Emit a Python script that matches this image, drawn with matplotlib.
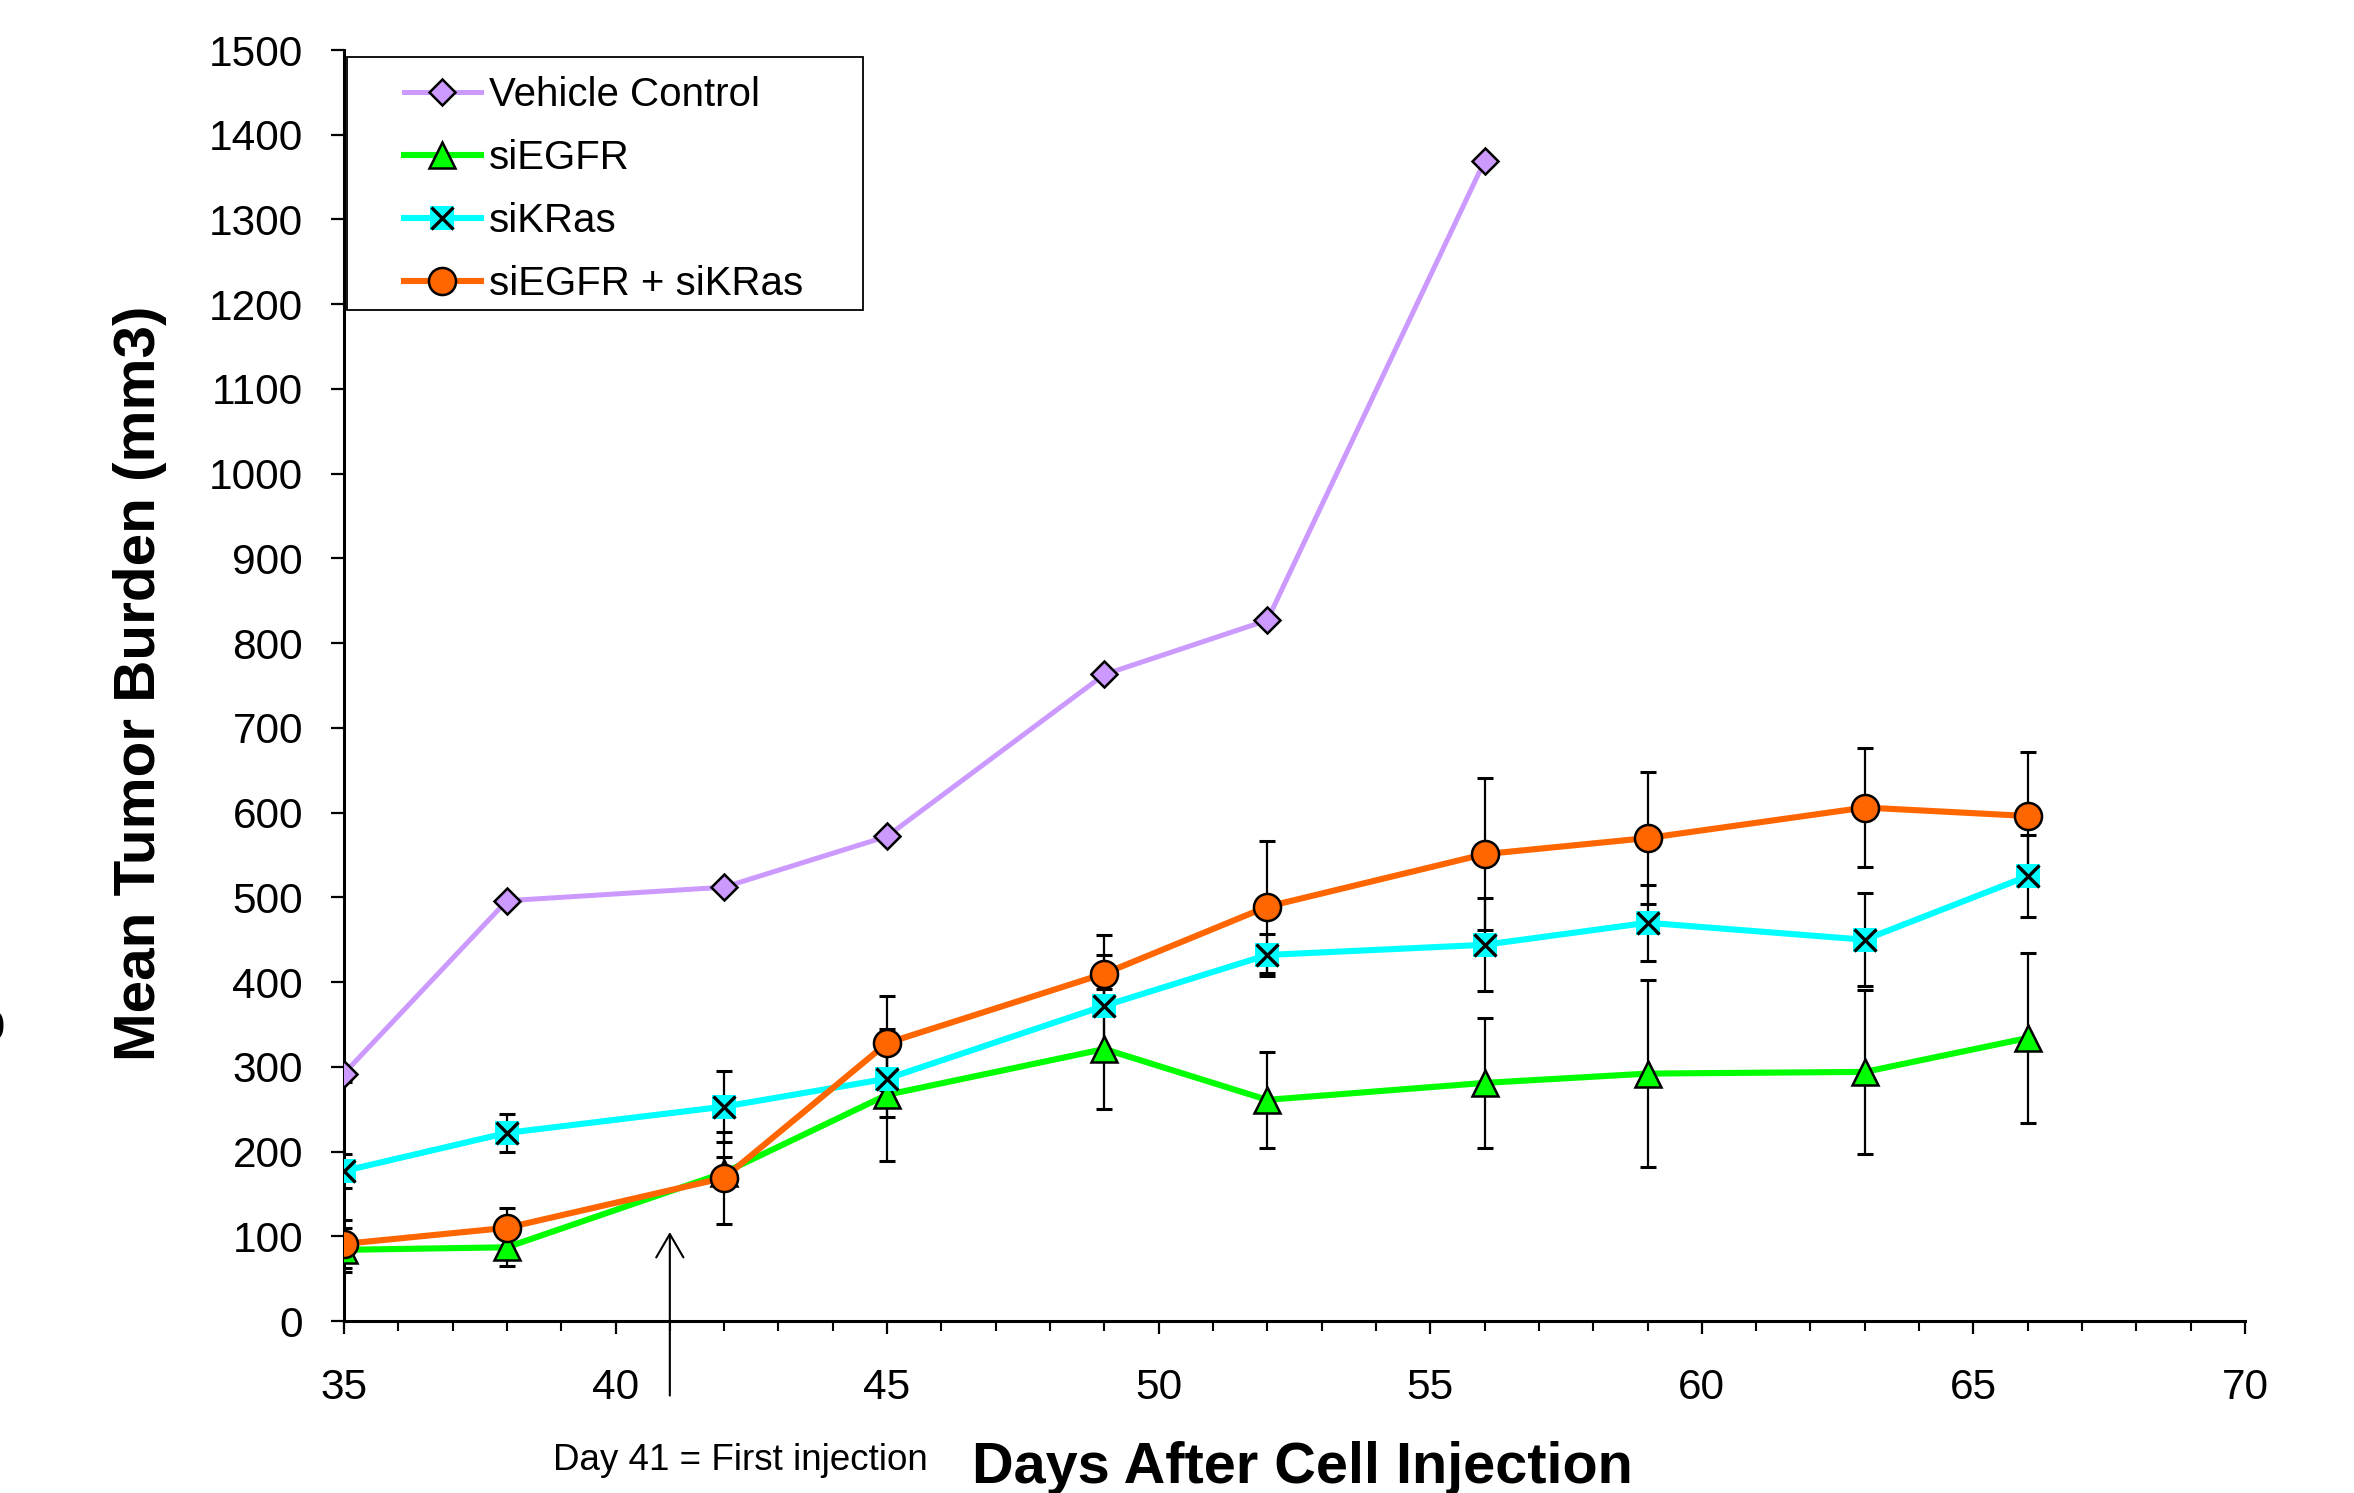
import matplotlib
matplotlib.use("Agg")
import matplotlib.pyplot as plt
from matplotlib.ticker import MultipleLocator
from matplotlib.patches import Rectangle
from matplotlib.legend_handler import HandlerTuple

plt.rcParams['font.family'] = ['Liberation Sans', 'DejaVu Sans']

# days of measurement
days_vc = [35, 38, 42, 45, 49, 52, 56]
days = [35, 38, 42, 45, 49, 52, 56, 59, 63, 66]

# mean tumor burden (mm3)
vehicle = [292, 496, 512, 572, 763, 827, 1369]
vehicle_err = [10, 0, 0, 0, 0, 0, 0]
siegfr = [84, 87, 175, 267, 321, 261, 281, 292, 294, 334]
siegfr_err = [26, 22, 18, 78, 71, 57, 77, 110, 97, 100]
sikras = [177, 222, 253, 286, 372, 432, 444, 470, 450, 525]
sikras_err = [20, 22, 42, 45, 60, 25, 55, 45, 55, 48]
combo = [91, 110, 169, 328, 410, 489, 551, 570, 606, 596]
combo_err = [28, 23, 54, 55, 45, 78, 90, 78, 70, 76]

labels = ['Vehicle Control', 'siEGFR', 'siKRas', 'siEGFR + siKRas']

fig = plt.figure(figsize=(23.54, 14.93), dpi=100)
ax = fig.add_axes([0.1461, 0.1152, 0.8076, 0.8513])

# error bars underneath the markers
eb = dict(fmt='none', ecolor='black', elinewidth=1.6, capsize=6, capthick=2.2, zorder=2)
ax.errorbar(days_vc, vehicle, yerr=vehicle_err, **eb)
ax.errorbar(days, siegfr, yerr=siegfr_err, **eb)
ax.errorbar(days, sikras, yerr=sikras_err, **eb)
ax.errorbar(days, combo, yerr=combo_err, **eb)

h_vc, = ax.plot(days_vc, vehicle, color='#CC99FF', lw=3.6, marker='D', ms=13,
                mfc='#CC99FF', mec='black', mew=1.8, zorder=3)
h_eg, = ax.plot(days, siegfr, color='#00FF00', lw=4.4, marker='^', ms=19,
                mfc='#00FF00', mec='black', mew=1.8, zorder=3)
h_kr, = ax.plot(days, sikras, color='#00FFFF', lw=4.4, marker='s', ms=17,
                mfc='#00FFFF', mec='#00FFFF', mew=0, zorder=3)
h_kx, = ax.plot(days, sikras, ls='none', marker='x', ms=16, color='black',
                mew=2.4, zorder=3.1)
h_co, = ax.plot(days, combo, color='#FF6600', lw=4.4, marker='o', ms=19.5,
                mfc='#FF6600', mec='black', mew=1.8, zorder=3.2)

ax.set_xlim(35, 70)
ax.set_ylim(0, 1500)
ax.set_xticks(range(35, 71, 5))
ax.xaxis.set_minor_locator(MultipleLocator(1))
ax.yaxis.set_major_locator(MultipleLocator(100))

for s in ['top', 'right']:
    ax.spines[s].set_visible(False)
for s in ['left', 'bottom']:
    ax.spines[s].set_linewidth(2.2)

ax.tick_params(axis='both', which='major', direction='out', length=9.5, width=1.6,
               labelsize=30.5, color='black')
ax.tick_params(axis='x', which='minor', direction='out', length=7, width=1.5)
ax.tick_params(axis='x', which='major', pad=24)
ax.tick_params(axis='y', which='major', pad=20)

# arrow marking the first injection
ax.annotate('', xy=(41, 105), xytext=(41, -88), annotation_clip=False,
            arrowprops=dict(arrowstyle='->,head_length=1.2,head_width=0.7',
                            mutation_scale=14, color='black', lw=1.5,
                            shrinkA=0, shrinkB=0))

fig.text(0.0595, 0.5425, 'Mean Tumor Burden (mm3)', rotation=90, ha='center',
         va='center', fontsize=42, fontweight='bold')
fig.text(0.5531, 0.0067, 'Days After Cell Injection', ha='center', va='baseline',
         fontsize=41.5, fontweight='bold')
fig.text(0.3144, 0.0154, 'Day 41 = First injection', ha='center', va='baseline',
         fontsize=26.5)
fig.text(0.0018, 0.311, '0', ha='right', va='center', fontsize=30)

# legend without frame, frame drawn by hand
leg = ax.legend([h_vc, h_eg, (h_kr, h_kx), h_co], labels,
                handler_map={tuple: HandlerTuple(ndivide=1)},
                loc='upper left', bbox_to_anchor=(0.0316, 0.9796), borderaxespad=0,
                borderpad=0, frameon=False, fontsize=29, handlelength=1.9,
                handletextpad=0.2, labelspacing=0.62)
ax.add_patch(Rectangle((0.0016, 0.7954), 0.2714, 0.1991, transform=ax.transAxes,
                       fill=False, edgecolor='black', lw=1.3, clip_on=False, zorder=5))

fig.savefig('out.png', dpi=100)
